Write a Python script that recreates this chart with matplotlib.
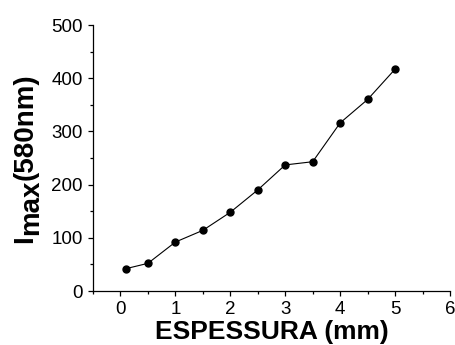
import matplotlib
matplotlib.use("Agg")
from matplotlib import pyplot as plt
from matplotlib.ticker import MultipleLocator
from matplotlib.transforms import IdentityTransform
from matplotlib.font_manager import FontProperties

espessura = [0.1, 0.5, 1.0, 1.5, 2.0, 2.5, 3.0, 3.5, 4.0, 4.5, 5.0]
imax = [42, 52, 92, 114, 148, 190, 237, 243, 316, 360, 417]

plt.rcParams['font.family'] = ['Liberation Sans', 'DejaVu Sans']

W, H = 455, 345
fig = plt.figure(figsize=(W / 100, H / 100), dpi=100)
ax = fig.add_axes([93 / W, 54 / H, 357 / W, 266 / H])

ax.plot(espessura, imax, color="black", lw=0.8, marker="o", ms=5)

ax.set_xlim(-0.5, 6)
ax.set_ylim(0, 500)
ax.xaxis.set_major_locator(MultipleLocator(1))
ax.xaxis.set_minor_locator(MultipleLocator(0.5))
ax.yaxis.set_major_locator(MultipleLocator(100))
ax.yaxis.set_minor_locator(MultipleLocator(50))

for side in ["top", "right"]:
    ax.spines[side].set_visible(False)
for side in ["left", "bottom"]:
    ax.spines[side].set_linewidth(0.9)

ax.tick_params(which="major", direction="out", length=3.5, width=0.9, labelsize=13.5, pad=4)
ax.tick_params(which="minor", direction="out", length=2.2, width=0.9)

# x label, placed in pixels
fig.text(272, 6, "ESPESSURA (mm)", fontsize=19, fontweight="bold",
         ha="center", va="baseline", transform=IdentityTransform())

# y label: I, subscript "max" (large, lowered), (580nm)
fig.canvas.draw()
renderer = fig.canvas.get_renderer()
fs = 20
prop = FontProperties(family="Liberation Sans", weight="bold", size=fs)
parts = [("I", 32.5), ("max", 38.5), ("(580nm)", 32.5)]
widths = [renderer.get_text_width_height_descent(s, prop, ismath=False)[0] for s, _ in parts]
total = sum(widths)
y = (H - 158) - total / 2
for (s, base), w in zip(parts, widths):
    fig.text(base, y, s, fontproperties=prop, rotation=90, rotation_mode="anchor",
             ha="left", va="baseline", transform=IdentityTransform())
    y += w

fig.savefig("out.png", dpi=100)
